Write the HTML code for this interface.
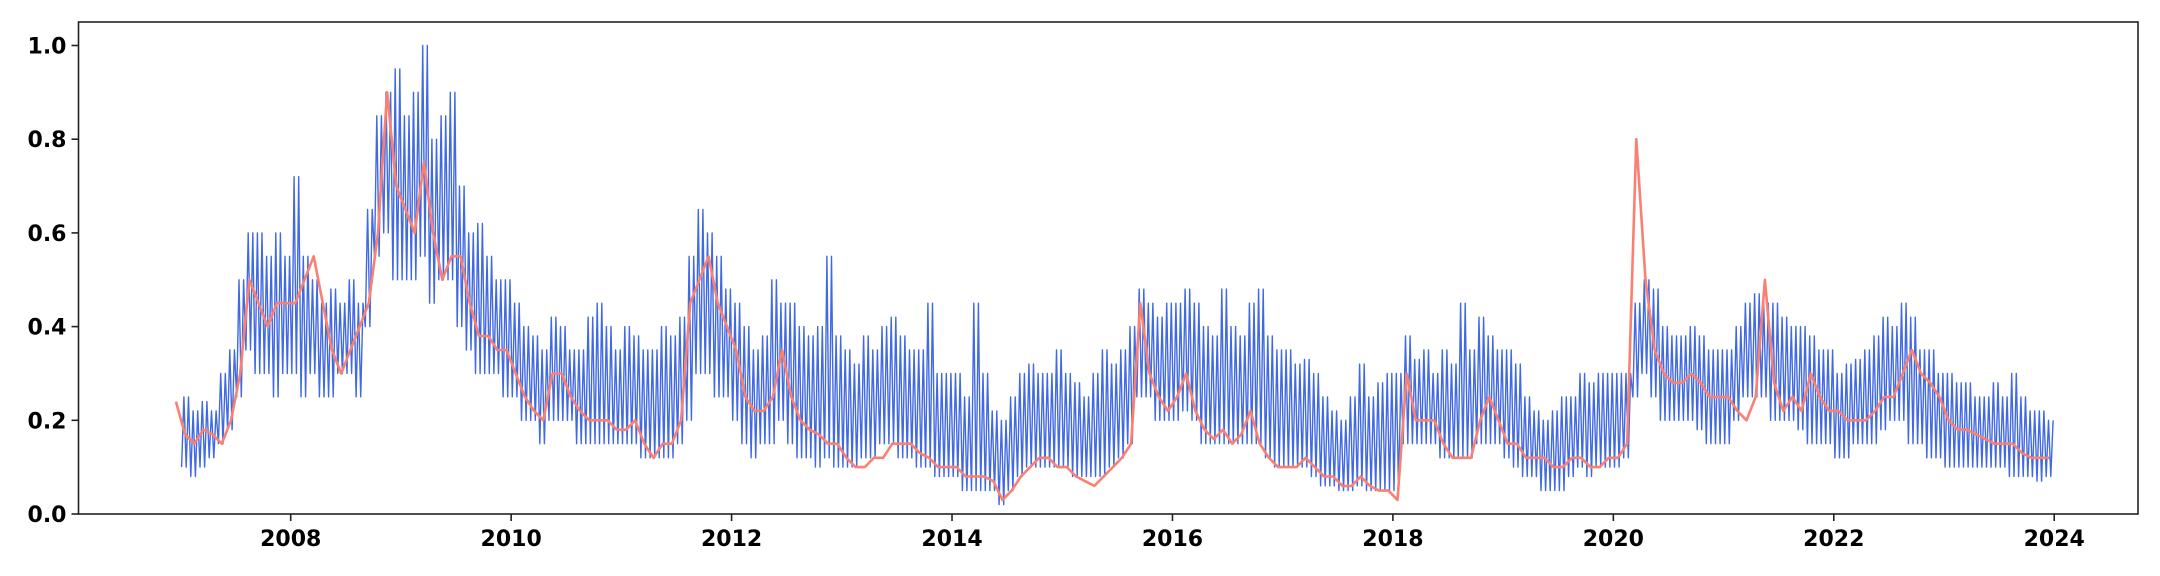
<!DOCTYPE html>
<html><head><meta charset="utf-8"><style>
html,body{margin:0;padding:0;background:#fff;}
svg{display:block;font-family:"DejaVu Sans","Liberation Sans",sans-serif;font-weight:bold;}
</style></head><body>
<svg id="chart" width="2160" height="576" viewBox="0 0 2160 576" xmlns="http://www.w3.org/2000/svg"></svg>
<script>
// Blue series: monthly [low, high] envelope starting Jan 2007
const blueYears = [2007,2008,2009,2010,2011,2012,2013,2014,2015,2016,2017,2018,2019,2020,2021,2022,2023];
const blueLow = [
[.10,.08,.10,.12,.15,.18,.25,.35,.30,.30,.25,.30],
[.30,.25,.30,.25,.25,.30,.30,.25,.40,.55,.60,.50],
[.50,.50,.55,.45,.50,.50,.40,.35,.30,.30,.30,.25],
[.25,.20,.20,.15,.20,.20,.20,.15,.15,.15,.15,.15],
[.15,.15,.12,.12,.12,.12,.15,.20,.30,.30,.25,.25],
[.20,.15,.12,.15,.15,.20,.15,.12,.12,.10,.12,.10],
[.10,.10,.12,.12,.15,.15,.12,.12,.10,.10,.08,.08],
[.08,.05,.05,.05,.05,.02,.05,.08,.10,.10,.10,.10],
[.10,.08,.08,.08,.08,.10,.12,.15,.25,.25,.20,.20],
[.20,.22,.20,.15,.15,.15,.15,.15,.15,.15,.12,.10],
[.10,.10,.10,.08,.06,.06,.05,.05,.06,.05,.05,.05],
[.05,.15,.15,.15,.15,.12,.12,.12,.12,.15,.15,.15],
[.12,.10,.08,.08,.05,.05,.05,.08,.10,.08,.10,.10],
[.10,.12,.25,.30,.25,.20,.20,.20,.20,.18,.15,.15],
[.15,.20,.25,.25,.25,.20,.20,.20,.18,.15,.15,.15],
[.12,.12,.15,.15,.15,.18,.20,.20,.15,.15,.12,.12],
[.10,.10,.10,.10,.10,.10,.10,.08,.08,.08,.07,.08]];
const blueHigh = [
[.25,.22,.24,.22,.30,.35,.50,.60,.60,.55,.60,.55],
[.72,.55,.50,.45,.48,.45,.50,.45,.65,.85,.90,.95],
[.85,.90,1.0,.80,.85,.90,.70,.60,.62,.55,.50,.50],
[.45,.40,.38,.35,.42,.40,.35,.35,.42,.45,.40,.35],
[.40,.38,.35,.35,.40,.38,.42,.55,.65,.60,.55,.48],
[.45,.40,.35,.38,.50,.45,.45,.40,.38,.40,.55,.38],
[.35,.32,.38,.35,.40,.42,.38,.35,.35,.45,.30,.30],
[.30,.25,.45,.30,.22,.20,.25,.30,.32,.30,.30,.35],
[.30,.28,.25,.30,.35,.32,.35,.40,.48,.45,.42,.45],
[.45,.48,.45,.40,.38,.48,.40,.38,.45,.48,.38,.35],
[.35,.32,.33,.30,.25,.22,.20,.25,.32,.25,.28,.30],
[.30,.38,.33,.35,.30,.35,.32,.45,.35,.42,.38,.35],
[.35,.32,.25,.22,.20,.22,.25,.25,.30,.28,.30,.30],
[.30,.30,.45,.50,.48,.40,.38,.38,.40,.38,.35,.35],
[.35,.40,.45,.47,.45,.45,.42,.40,.40,.38,.35,.35],
[.30,.32,.33,.35,.38,.42,.40,.45,.42,.35,.35,.30],
[.30,.28,.28,.25,.25,.28,.25,.30,.25,.22,.22,.20]];
// Salmon series: monthly values starting Dec 2006
const salmonStart = 2006 + 11/12;
const salmonValues = [.24,
.17,.15,.18,.17,.15,.20,.30,.50,.45,.40,.45,.45,
.45,.50,.55,.45,.35,.30,.35,.40,.45,.60,.90,.70,
.65,.60,.75,.60,.50,.55,.55,.45,.38,.38,.35,.35,
.30,.25,.22,.20,.30,.30,.25,.22,.20,.20,.20,.18,
.18,.20,.15,.12,.15,.15,.20,.45,.50,.55,.45,.40,
.35,.25,.22,.22,.25,.35,.25,.20,.18,.17,.15,.15,
.12,.10,.10,.12,.12,.15,.15,.15,.13,.12,.10,.10,
.10,.08,.08,.08,.07,.03,.05,.08,.10,.12,.12,.10,
.10,.08,.07,.06,.08,.10,.12,.15,.45,.30,.25,.22,
.25,.30,.22,.18,.16,.18,.15,.17,.22,.15,.12,.10,
.10,.10,.12,.10,.08,.08,.06,.06,.08,.06,.05,.05,
.03,.30,.20,.20,.20,.15,.12,.12,.12,.20,.25,.20,
.15,.15,.12,.12,.12,.10,.10,.12,.12,.10,.10,.12,
.12,.15,.80,.50,.35,.30,.28,.28,.30,.28,.25,.25,
.25,.22,.20,.25,.50,.28,.22,.25,.22,.30,.25,.22,
.22,.20,.20,.20,.22,.25,.25,.30,.35,.30,.28,.25,
.20,.18,.18,.17,.16,.15,.15,.15,.13,.12,.12,.12];
const yTicks = [0.0,0.2,0.4,0.6,0.8,1.0];
const yTickLabels = ["0.0","0.2","0.4","0.6","0.8","1.0"];
const xTicks = [2008,2010,2012,2014,2016,2018,2020,2022,2024];
const xTickLabels = ["2008","2010","2012","2014","2016","2018","2020","2022","2024"];

const NS = "http://www.w3.org/2000/svg";
const svg = document.getElementById('chart');
const L=78.5, R=2138, T=22, B=514;
const x = t => 290.7 + (t-2008)*110.22;
const y = v => B - v*468.5;
function mk(tag, attrs){const e=document.createElementNS(NS,tag);for(const k in attrs)e.setAttribute(k,attrs[k]);svg.appendChild(e);return e;}

const SW = 2;
let bp=[];
blueYears.forEach((yr,i)=>{for(let m=0;m<12;m++){
  for(let k=0;k<SW;k++){
    bp.push(x(yr+(m+(2*k+0.5)/(2*SW))/12).toFixed(1)+','+y(blueLow[i][m]).toFixed(1));
    bp.push(x(yr+(m+(2*k+1.5)/(2*SW))/12).toFixed(1)+','+y(blueHigh[i][m]).toFixed(1));
  }
}});
const blue = mk('polyline',{points:bp.join(' '),fill:'none',stroke:'#4169E1','stroke-width':1.4,'stroke-linejoin':'round'});



let sp = salmonValues.map((v,i)=>x(salmonStart+(i+0.5)/12).toFixed(1)+','+y(v).toFixed(1));
const sal = mk('polyline',{points:sp.join(' '),fill:'none',stroke:'#FA8072','stroke-width':2.6,'stroke-linejoin':'round'});



const fr = mk('rect',{x:L,y:T,width:R-L,height:B-T,fill:'none',stroke:'#222','stroke-width':1.6});



yTicks.forEach((v,i)=>{
  const tk = mk('line',{x1:L-7,x2:L,y1:y(v),y2:y(v),stroke:'#222','stroke-width':1.6});
  
  
  const tx = mk('text',{x:L-12,y:y(v)+8,'text-anchor':'end','font-size':22,fill:'#000'});
  tx.textContent = yTickLabels[i];
  
  
});
xTicks.forEach((t,i)=>{
  const tk = mk('line',{x1:x(t),x2:x(t),y1:B,y2:B+7,stroke:'#222','stroke-width':1.6});
  
  
  const tx = mk('text',{x:x(t),y:B+32,'text-anchor':'middle','font-size':22,fill:'#000'});
  tx.textContent = xTickLabels[i];
  
  
});
</script>
</body></html>
